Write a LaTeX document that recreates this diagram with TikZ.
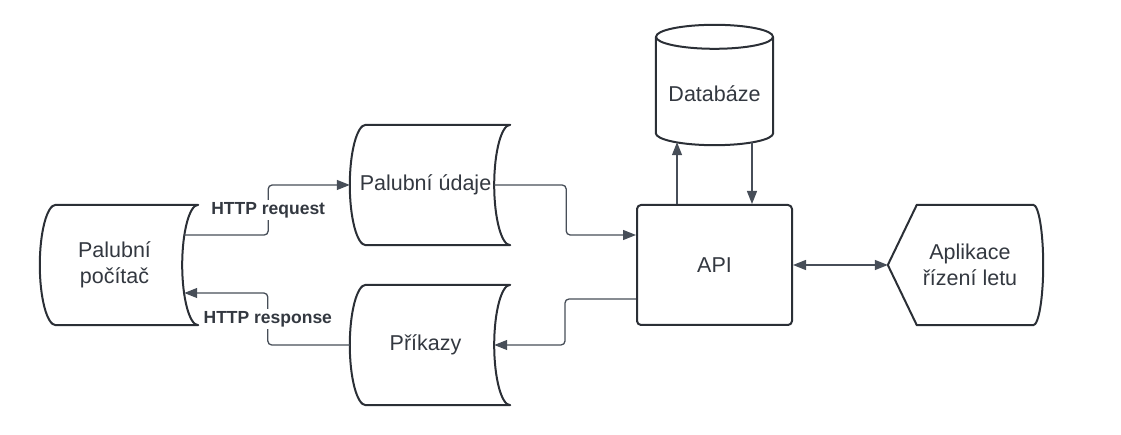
\documentclass[tikz,border=0pt]{standalone}
\usepackage{fontspec}
\setmainfont{Liberation Sans}
\usetikzlibrary{arrows.meta,calc}
\definecolor{ink}{HTML}{2B2F36}
\definecolor{wire}{HTML}{474E58}
\definecolor{txt}{HTML}{333840}
\begin{document}
\begin{tikzpicture}[x=1pt,y=-1pt,
    >={Triangle[length=13pt,width=10pt]},
    box/.style={minimum width=#1, minimum height=120pt, inner sep=0pt, align=center,
      text=txt, font=\fontsize{21.5}{26}\selectfont},
    box/.default=151pt,
    outline/.style={draw=ink, line width=2pt, line join=round},
    link/.style={draw=wire, line width=1.3pt, rounded corners=4pt, ->},
    lbl/.style={fill=white, inner sep=2pt, text=txt, font=\fontsize{17.5}{20}\selectfont\bfseries}]
  \useasboundingbox (0,0) rectangle (1121,435);

  \node[box=149pt] (pc) at (114.5,265) {Palubní\\počítač};
  \node[box] (ud) at (425.5,185) {Palubní údaje};
  \node[box] (pr) at (425.5,345) {Příkazy};
  \node[box=117pt, minimum height=102pt] (db) at (714.5,94) {Databáze};
  \node[box=155pt, outline, rounded corners=4pt] (api) at (714.5,265) {API};
  \node[box=146pt] (app) at (970,265) {Aplikace\\řízení letu};

  \foreach \n in {pc,ud,pr}
    \draw[outline] ([xshift=16pt]\n.north west) -- ([xshift=9pt]\n.north east)
      .. controls +(-8.8,0) and +(0,-33) .. ([xshift=-7pt]\n.east)
      .. controls +(0,33) and +(-8.8,0) .. ([xshift=9pt]\n.south east)
      -- ([xshift=16pt]\n.south west)
      .. controls +(-8.8,0) and +(0,33) .. (\n.west)
      .. controls +(0,-33) and +(-8.8,0) .. ([xshift=16pt]\n.north west) -- cycle;

  \draw[outline] ($(db.north west)+(0,-6)$) -- ($(db.south west)+(0,-12)$)
    .. controls +(0,6.6) and +(-32.3,0) .. (db.south)
    .. controls +(32.3,0) and +(0,6.6) .. ($(db.south east)+(0,-12)$)
    -- ($(db.north east)+(0,-6)$);
  \draw[outline] ($(db.north)+(0,-6)$) ellipse [x radius=58.5, y radius=12];

  \draw[outline] ([xshift=-9pt]app.west) -- ([xshift=20pt]app.north west) -- ([xshift=-10pt]app.north east)
    .. controls +(5.5,0) and +(0,-33) .. (app.east)
    .. controls +(0,33) and +(5.5,0) .. ([xshift=-10pt]app.south east)
    -- ([xshift=20pt]app.south west) -- cycle;

  \begin{scope}[link]
    \draw ([shift={(-5,-30)}]pc.east) -- ++(84,0) |- node[lbl, pos=0.25] {HTTP request} (ud.west);
    \draw (pr.west) -- ++(-82,0) |- node[lbl, pos=0.25] {HTTP response} ([shift={(-5,28)}]pc.east);
    \draw ([xshift=-7pt]ud.east) -- ++(72,0) |- ([yshift=30pt]api.west);
    \draw ([yshift=-34pt]api.west) -- ++(-71,0) |- ([xshift=-7pt]pr.east);
    \draw ([xshift=-37.5pt]api.north) -- ([shift={(-37.5,-3)}]db.south);
    \draw ([shift={(37.5,-3)}]db.south) -- ([xshift=37.5pt]api.north);
    \draw[<->] (api.east) -- ([xshift=-9pt]app.west);
  \end{scope}
\end{tikzpicture}
\end{document}
